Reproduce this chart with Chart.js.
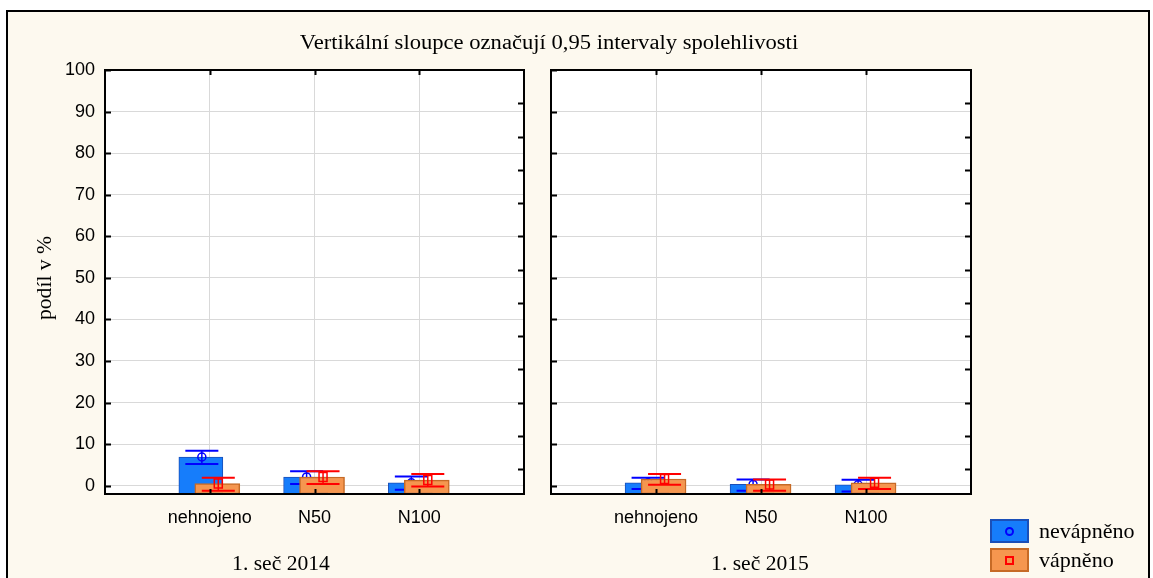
<!DOCTYPE html>
<html>
<head>
<meta charset="utf-8">
<script src="https://cdn.jsdelivr.net/npm/chart.js@4/dist/chart.umd.min.js"></script>
<style>
  html, body { margin: 0; padding: 0; background: #ffffff; }
  #wrap { position: relative; width: 1153px; height: 578px; overflow: hidden; background: #ffffff; }
  #frame { position: absolute; left: 6px; top: 10px; width: 1144px; height: 620px; box-sizing: border-box;
           border: 2px solid #000; background: #fdf9ef; }
  canvas { position: absolute; left: 0; top: 0; }
  .serif { position: absolute; white-space: nowrap; color: #000;
           font-family: "Liberation Serif", "Times New Roman", serif; line-height: 1; }
  #title { left: 549px; top: 32px; font-size: 20px; transform: translateX(-50%) scaleX(1.13); }
  #ytitle { left: 44px; top: 278px; font-size: 20px; transform: translate(-50%, -50%) rotate(-90deg) scaleX(1.08); }
  .panel-label { top: 553px; font-size: 20px; transform: translateX(-50%) scaleX(1.08); }
  .legend-row { position: absolute; left: 990px; height: 24px; }
  .legend-box { position: absolute; left: 0; top: 0; width: 39px; height: 24px; box-sizing: border-box; }
  .legend-text { left: 49px; top: 2px; font-size: 21px; transform-origin: 0 50%; transform: scaleX(1.05); }
</style>
</head>
<body>
<div id="wrap">
  <div id="frame"></div>
  <canvas id="c2014" width="1153" height="578"></canvas>
  <canvas id="c2015" width="1153" height="578"></canvas>
  <div id="title" class="serif"></div>
  <div id="ytitle" class="serif"></div>
  <div id="lab2014" class="serif panel-label" style="left:281px"></div>
  <div id="lab2015" class="serif panel-label" style="left:760px"></div>
  <div id="legend"></div>
</div>
<script>
// ---- data ----
const categories = ['nehnojeno', 'N50', 'N100'];
const panelLabels = ['1. seč 2014', '1. seč 2015'];
const seriesNames = ['nevápněno', 'vápněno'];
const yTicks = [0, 10, 20, 30, 40, 50, 60, 70, 80, 90, 100];
const rightTicks = [92, 84, 76, 68, 60, 52, 44, 36, 28, 20, 12, 4];

// 1. seč 2014
const mean2014Nevapneno = [6.9, 2.1, 0.7];
const low2014Nevapneno  = [5.2, 0.4, -1.0];
const high2014Nevapneno = [8.4, 3.5, 2.2];
const mean2014Vapneno   = [0.5, 2.1, 1.35];
const low2014Vapneno    = [-1.2, 0.4, -0.2];
const high2014Vapneno   = [1.9, 3.5, 2.8];

// 1. seč 2015
const mean2015Nevapneno = [0.7, 0.3, 0.2];
const low2015Nevapneno  = [-0.8, -1.2, -1.4];
const high2015Nevapneno = [1.9, 1.5, 1.4];
const mean2015Vapneno   = [1.6, 0.3, 0.7];
const low2015Vapneno    = [0.2, -1.2, -0.8];
const high2015Vapneno   = [2.8, 1.5, 1.9];

// ---- styles ----
const BLUE_FILL = '#167dfb', BLUE_EDGE = '#1a4fb8', BLUE_CI = '#0000ff';
const ORANGE_FILL = '#f5964f', ORANGE_EDGE = '#c66a26', RED_CI = '#ff0000';
const SANS = '"Liberation Sans", Arial, sans-serif';
const Y_MIN = -2, Y_MAX = 100;
const BLUE_SHIFT = -0.085, ORANGE_SHIFT = 0.072;

document.getElementById('title').textContent = 'Vertikální sloupce označují 0,95 intervaly spolehlivosti';
document.getElementById('ytitle').textContent = 'podíl v %';
document.getElementById('lab2014').textContent = panelLabels[0];
document.getElementById('lab2015').textContent = panelLabels[1];

// legend
(function buildLegend() {
  const legend = document.getElementById('legend');
  const rows = [
    { name: seriesNames[0], fill: BLUE_FILL, edge: BLUE_EDGE, mark: 'circle', col: BLUE_CI, top: 519 },
    { name: seriesNames[1], fill: ORANGE_FILL, edge: ORANGE_EDGE, mark: 'square', col: RED_CI, top: 548 }
  ];
  rows.forEach(r => {
    const row = document.createElement('div');
    row.className = 'legend-row';
    row.style.top = r.top + 'px';
    const box = document.createElement('div');
    box.className = 'legend-box';
    box.style.background = r.fill;
    box.style.border = '2px solid ' + r.edge;
    const m = document.createElement('div');
    m.style.position = 'absolute';
    m.style.boxSizing = 'border-box';
    m.style.border = '2px solid ' + r.col;
    m.style.width = '9px'; m.style.height = '9px';
    m.style.left = '13px'; m.style.top = '6px';
    if (r.mark === 'circle') m.style.borderRadius = '50%';
    box.appendChild(m);
    const t = document.createElement('div');
    t.className = 'serif legend-text';
    t.textContent = r.name;
    row.appendChild(box);
    row.appendChild(t);
    legend.appendChild(row);
  });
})();

// white plot area, black frame and inward tick marks
const panelFrame = {
  id: 'panelFrame',
  beforeDraw(chart) {
    const a = chart.chartArea, ctx = chart.ctx;
    ctx.save();
    ctx.fillStyle = '#ffffff';
    ctx.fillRect(a.left, a.top, a.right - a.left, a.bottom - a.top);
    ctx.restore();
  },
  afterDraw(chart) {
    const a = chart.chartArea, ctx = chart.ctx;
    const ys = chart.scales.y, xs = chart.scales.x;
    ctx.save();
    ctx.strokeStyle = '#000';
    ctx.lineWidth = 2;
    ctx.strokeRect(a.left, a.top, a.right - a.left, a.bottom - a.top);
    ctx.beginPath();
    yTicks.forEach(v => {
      const py = Math.round(ys.getPixelForValue(v)) + 0.5;
      ctx.moveTo(a.left, py); ctx.lineTo(a.left + 6, py);
    });
    rightTicks.forEach(v => {
      const py = Math.round(ys.getPixelForValue(v)) + 0.5;
      ctx.moveTo(a.right, py); ctx.lineTo(a.right - 6, py);
    });
    categories.forEach((c, i) => {
      const px = Math.round(xs.getPixelForValue(i + 1)) + 0.5;
      ctx.moveTo(px, a.top); ctx.lineTo(px, a.top + 5);
      ctx.moveTo(px, a.bottom); ctx.lineTo(px, a.bottom - 5);
    });
    ctx.stroke();
    ctx.restore();
  }
};

// confidence interval whiskers with mean markers, drawn right after each dataset
const errorBars = {
  id: 'errorBars',
  afterDatasetDraw(chart, args) {
    const ds = chart.data.datasets[args.index];
    const ys = chart.scales.y, ctx = chart.ctx;
    ctx.save();
    ctx.strokeStyle = ds.ciColor;
    args.meta.data.forEach((bar, i) => {
      const x = bar.x + 1;
      const yl = ys.getPixelForValue(ds.ciLow[i]);
      const yh = ys.getPixelForValue(ds.ciHigh[i]);
      const ym = ys.getPixelForValue(ds.data[i].y);
      ctx.lineWidth = 1.5;
      ctx.beginPath();
      ctx.moveTo(x, yl); ctx.lineTo(x, yh);
      ctx.stroke();
      ctx.lineWidth = 2;
      ctx.beginPath();
      ctx.moveTo(x - 16.5, yh); ctx.lineTo(x + 16.5, yh);
      ctx.moveTo(x - 16.5, yl); ctx.lineTo(x + 16.5, yl);
      ctx.stroke();
      ctx.lineWidth = 1.5;
      ctx.beginPath();
      if (ds.ciMarker === 'circle') {
        ctx.arc(x, ym, 4, 0, Math.PI * 2);
      } else {
        ctx.rect(x - 4, ym - 4.5, 8, 9);
      }
      ctx.stroke();
    });
    ctx.restore();
  }
};

function pts(means, shift) {
  return means.map((m, i) => ({ x: i + 1 + shift, y: m }));
}

function makePanel(canvasId, padLeft, padRight, showYLabels, blue, orange) {
  return new Chart(document.getElementById(canvasId), {
    type: 'bar',
    data: {
      datasets: [
        {
          label: seriesNames[0],
          data: pts(blue.mean, BLUE_SHIFT),
          ciLow: blue.low, ciHigh: blue.high, ciColor: BLUE_CI, ciMarker: 'circle',
          backgroundColor: BLUE_FILL, borderColor: BLUE_EDGE, borderWidth: 1,
          borderSkipped: false, barThickness: 44, grouped: false, base: Y_MIN, order: 2
        },
        {
          label: seriesNames[1],
          data: pts(orange.mean, ORANGE_SHIFT),
          ciLow: orange.low, ciHigh: orange.high, ciColor: RED_CI, ciMarker: 'square',
          backgroundColor: ORANGE_FILL, borderColor: ORANGE_EDGE, borderWidth: 1.5,
          borderSkipped: false, barThickness: 45, grouped: false, base: Y_MIN, order: 1
        }
      ]
    },
    options: {
      responsive: false,
      animation: false,
      devicePixelRatio: 1,
      layout: { padding: { left: padLeft, right: padRight, top: 70, bottom: 0 } },
      plugins: { legend: { display: false }, tooltip: { enabled: false }, title: { display: false } },
      scales: {
        x: {
          type: 'linear', min: 0, max: 4, offset: false,
          afterBuildTicks(scale) { scale.ticks = categories.map((c, i) => ({ value: i + 1 })); },
          afterFit(scale) { scale.height = 84; },
          ticks: {
            callback: (v) => categories[v - 1],
            color: '#000', padding: 13, maxRotation: 0, autoSkip: false,
            font: { family: SANS, size: 18 }
          },
          grid: { color: '#d9d9d9', lineWidth: 1, drawTicks: false, offset: false },
          border: { display: false }
        },
        y: {
          type: 'linear', min: Y_MIN, max: Y_MAX,
          afterBuildTicks(scale) { scale.ticks = yTicks.map(v => ({ value: v })); },
          afterFit(scale) { scale.width = showYLabels ? 105 : 0; },
          ticks: {
            display: showYLabels, color: '#000', padding: 10,
            font: { family: SANS, size: 18 }
          },
          grid: { color: '#d9d9d9', lineWidth: 1, drawTicks: false },
          border: { display: false }
        }
      }
    },
    plugins: [panelFrame, errorBars]
  });
}

makePanel('c2014', 0, 1153 - 524, true,
  { mean: mean2014Nevapneno, low: low2014Nevapneno, high: high2014Nevapneno },
  { mean: mean2014Vapneno, low: low2014Vapneno, high: high2014Vapneno });

makePanel('c2015', 551, 1153 - 971, false,
  { mean: mean2015Nevapneno, low: low2015Nevapneno, high: high2015Nevapneno },
  { mean: mean2015Vapneno, low: low2015Vapneno, high: high2015Vapneno });
</script>
</body>
</html>
